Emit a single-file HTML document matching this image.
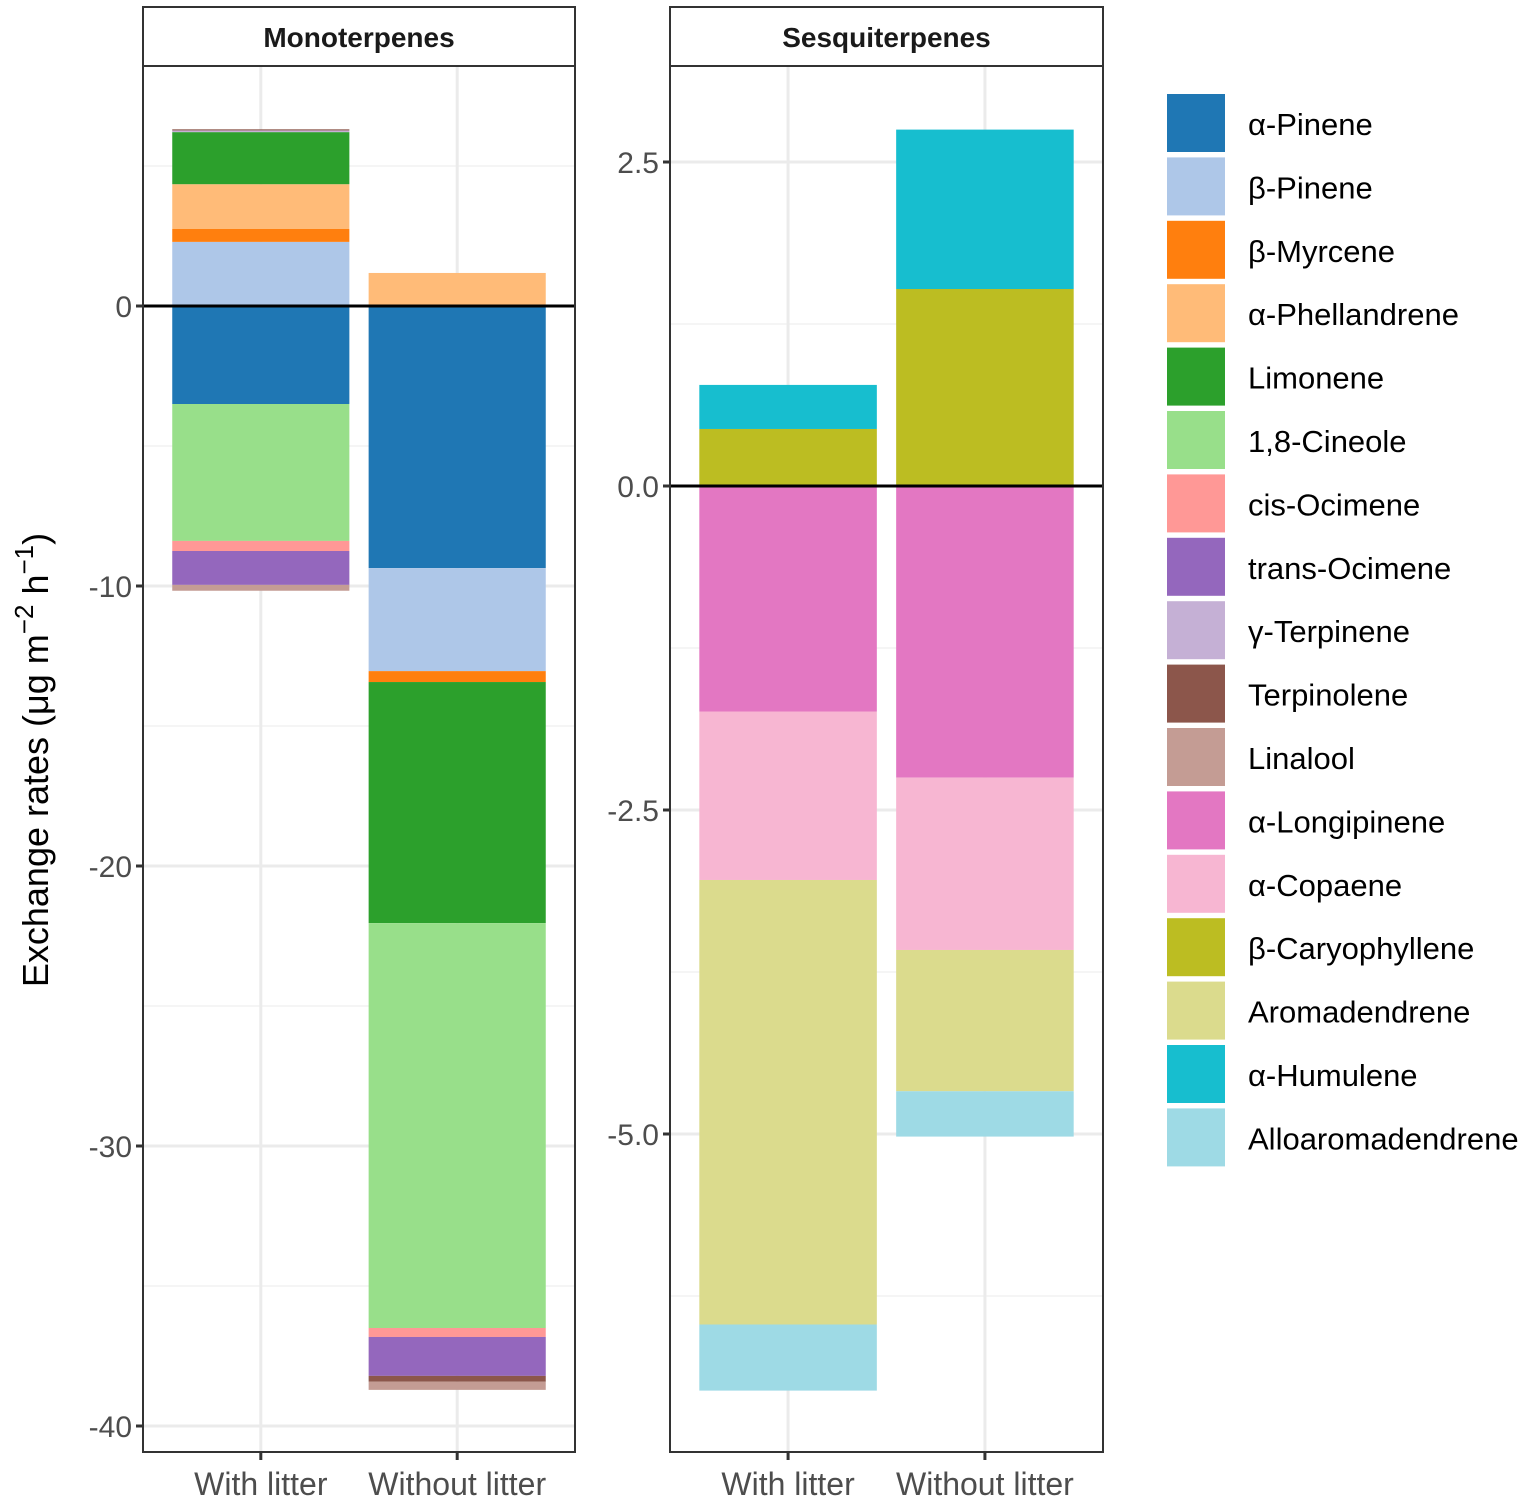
<!DOCTYPE html>
<html><head><meta charset="utf-8"><style>
body{margin:0;background:#fff;}
svg text{font-family:"Liberation Sans",Arial,sans-serif;}
</style></head><body>
<svg id="chart" width="1535" height="1502" xmlns="http://www.w3.org/2000/svg"></svg>
<script>
const compounds=["α-Pinene","β-Pinene","β-Myrcene","α-Phellandrene","Limonene","1,8-Cineole","cis-Ocimene","trans-Ocimene","γ-Terpinene","Terpinolene","Linalool","α-Longipinene","α-Copaene","β-Caryophyllene","Aromadendrene","α-Humulene","Alloaromadendrene"];
const colors=["#1f77b4","#aec7e8","#ff7f0e","#ffbb78","#2ca02c","#98df8a","#ff9896","#9467bd","#c5b0d5","#8c564b","#c49c94","#e377c2","#f7b6d2","#bcbd22","#dbdb8d","#17becf","#9edae5"];
const categories=["With litter","Without litter"];
const monoWith=[-3.5,2.29,0.46,1.6,1.86,-4.89,-0.36,-1.21,0.06,0.04,-0.21];
const monoWithout=[-9.36,-3.68,-0.39,1.18,-8.61,-14.46,-0.32,-1.39,0,-0.21,-0.29];
const sesqWith=[-1.74,-1.30,0.44,-3.43,0.34,-0.51];
const sesqWithout=[-2.25,-1.33,1.52,-1.09,1.23,-0.35];
const monoTicks=[0,-10,-20,-30,-40];
const monoMinor=[5,-5,-15,-25,-35];
const sesqTicks=[2.5,0,-2.5,-5];
const sesqTickLabels=["2.5","0.0","-2.5","-5.0"];
const sesqMinor=[1.25,-1.25,-3.75,-6.25];

const svg=document.getElementById('chart');
const NS="http://www.w3.org/2000/svg";
function el(tag,attrs,parent){const e=document.createElementNS(NS,tag);for(const k in attrs)e.setAttribute(k,attrs[k]);(parent||svg).appendChild(e);return e;}

function panel(cfg){
  const g=el('g',{});
  
  
  const L=cfg.x0,R=cfg.x1,T=66,B=1452;
  const y=v=>cfg.zeroY-v*cfg.ppu;
  const cx=[L+(R-L)*0.2727,L+(R-L)*0.7273];
  cfg.minor.forEach(v=>{const l=el('line',{x1:L,x2:R,y1:y(v),y2:y(v),stroke:'#f2f2f2','stroke-width':1.5},g);});
  cfg.ticks.forEach(v=>{const l=el('line',{x1:L,x2:R,y1:y(v),y2:y(v),stroke:'#ebebeb','stroke-width':3},g);});
  cx.forEach(c=>{const l=el('line',{x1:c,x2:c,y1:T,y2:B,stroke:'#ebebeb','stroke-width':3},g);});
  const bw=(R-L)*0.41;
  cfg.series.forEach((vals,bi)=>{
    let pos=0,neg=0;
    vals.forEach((v,k)=>{
      if(v===0)return;
      let a,b;
      if(v>0){a=pos;b=pos+v;pos=b;}else{a=neg;b=neg+v;neg=b;}
      const r=el('rect',{x:cx[bi]-bw/2,y:Math.min(y(a),y(b)),width:bw,height:Math.abs(y(a)-y(b)),fill:colors[cfg.idx[k]]},g);
      
      
    });
  });
  const z=el('line',{x1:L,x2:R,y1:y(0),y2:y(0),stroke:'#000','stroke-width':3},g);
  
  const br=el('rect',{x:L,y:T,width:R-L,height:B-T,fill:'none',stroke:'#333','stroke-width':2},g);
  
  const st=el('rect',{x:L,y:7,width:R-L,height:59,fill:'#fff',stroke:'#333','stroke-width':2},g);
  
  const stt=el('text',{x:(L+R)/2,y:47,'text-anchor':'middle','font-size':28,'font-weight':'bold',fill:'#1a1a1a'},g);
  stt.textContent=cfg.title;
  
  cfg.ticks.forEach((v,i)=>{
    const t=el('line',{x1:L-7,x2:L,y1:y(v),y2:y(v),stroke:'#333','stroke-width':3},g);
    
    const tx=el('text',{x:L-11,y:y(v)+11,'text-anchor':'end','font-size':30,fill:'#4d4d4d'},g);
    tx.textContent=cfg.tickLabels[i];
    
  });
  categories.forEach((c,i)=>{
    const t=el('line',{x1:cx[i],x2:cx[i],y1:B,y2:B+8,stroke:'#333','stroke-width':3},g);
    
    const tx=el('text',{x:cx[i],y:1495,'text-anchor':'middle','font-size':32,fill:'#4d4d4d'},g);
    tx.textContent=c;
    
  });
}
panel({name:'monoterpenes',title:'Monoterpenes',x0:143,x1:575,zeroY:306,ppu:28,ticks:monoTicks,tickLabels:monoTicks.map(String),minor:monoMinor,series:[monoWith,monoWithout],idx:[0,1,2,3,4,5,6,7,8,9,10]});
panel({name:'sesquiterpenes',title:'Sesquiterpenes',x0:670,x1:1103,zeroY:486,ppu:129.6,ticks:sesqTicks,tickLabels:sesqTickLabels,minor:sesqMinor,series:[sesqWith,sesqWithout],idx:[11,12,13,14,15,16]});

const yt=el('text',{x:0,y:0,'text-anchor':'middle','font-size':36,fill:'#000',transform:'translate(48,760) rotate(-90)'});
yt.innerHTML='Exchange rates (μg m<tspan dy="-15" font-size="26">−2</tspan><tspan dy="15"> h</tspan><tspan dy="-15" font-size="26">−1</tspan><tspan dy="15">)</tspan>';



compounds.forEach((c,i)=>{
  const g=el('g',{});
  
  
  const yy=94+i*63.4;
  el('rect',{x:1167,y:yy,width:58,height:58,fill:colors[i]},g);
  const t=el('text',{x:1248,y:yy+41,'font-size':31,fill:'#000'},g);
  t.textContent=c;
});
</script>
</body></html>
